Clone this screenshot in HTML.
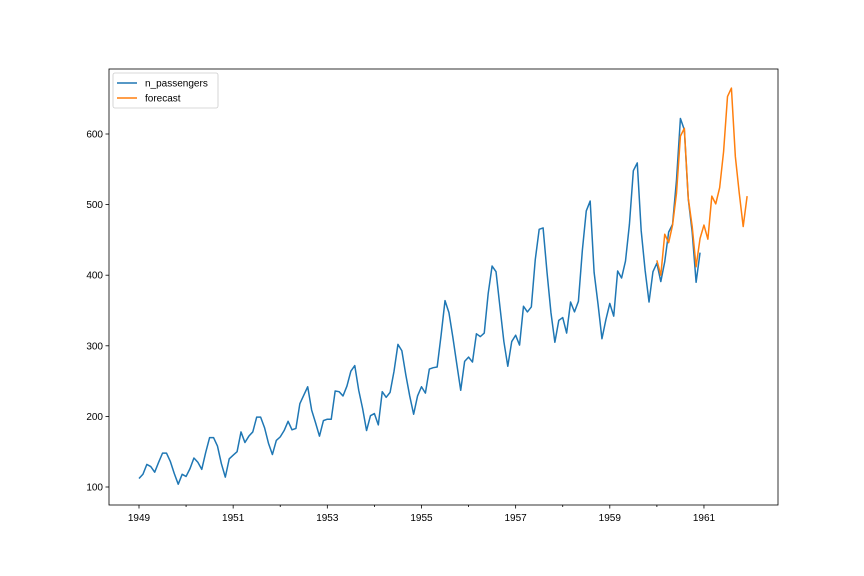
<!DOCTYPE html>
<html><head><meta charset="utf-8"><style>body{margin:0;background:#fff}svg{display:block;font-family:"Liberation Sans","DejaVu Sans",sans-serif}</style></head>
<body>
<svg id="chart" width="864" height="576" viewBox="0 0 864 576" xmlns="http://www.w3.org/2000/svg">
<rect width="864" height="576" fill="#fff"/>
<g id="plot"></g>
</svg>
<script>
const passengers = [112,118,132,129,121,135,148,148,136,119,104,118,
115,126,141,135,125,149,170,170,158,133,114,140,
145,150,178,163,172,178,199,199,184,162,146,166,
171,180,193,181,183,218,230,242,209,191,172,194,
196,196,236,235,229,243,264,272,237,211,180,201,
204,188,235,227,234,264,302,293,259,229,203,229,
242,233,267,269,270,315,364,347,312,274,237,278,
284,277,317,313,318,374,413,405,355,306,271,306,
315,301,356,348,355,422,465,467,404,347,305,336,
340,318,362,348,363,435,491,505,404,359,310,337,
360,342,406,396,420,472,548,559,463,407,362,405,
417,391,419,461,472,535,622,606,508,461,390,432];
const passengersStart = 1949;
const forecast = [421,400,458,446,471,516,597,608,509,469,412,452,
471,451,512,501,524,575,653,665,568,516,469,512];
const forecastStart = 1960;
const yTicks = [100,200,300,400,500,600];
const xTickYears = [1949,1950,1951,1952,1953,1954,1955,1956,1957,1958,1959,1960,1961];
const xLabelYears = [1949,1951,1953,1955,1957,1959,1961];

const NS="http://www.w3.org/2000/svg";
const g=document.getElementById('plot');
const L=109,R=778,T=69,B=505;
const xs=t=>139+(t-1949)*47.08;
const ys=v=>487-(v-100)*0.706;
function mk(tag,attrs,parent){const e=document.createElementNS(NS,tag);for(const k in attrs)e.setAttribute(k,attrs[k]);(parent||g).appendChild(e);return e;}

function line(data,start,color,name){
  const pts=data.map((v,i)=>xs(start+i/12).toFixed(2)+','+ys(v).toFixed(2)).join(' ');
  const p=mk('polyline',{points:pts,fill:'none',stroke:color,'stroke-width':1.5,'stroke-linejoin':'round'});
  
  
}
line(passengers,passengersStart,'#1f77b4','n-passengers-line');
line(forecast,forecastStart,'#ff7f0e','forecast-line');

const frame=mk('rect',{x:L,y:T,width:R-L,height:B-T,fill:'none',stroke:'#000','stroke-width':0.8});



yTicks.forEach(v=>{
  const y=ys(v);
  const tk=mk('line',{x1:L-3.5,x2:L,y1:y,y2:y,stroke:'#000','stroke-width':0.8});
  
  
  const t=mk('text',{x:L-6,y:y+3.5,'text-anchor':'end','font-size':10});
  t.textContent=v;
  
  
});
xTickYears.forEach(yr=>{
  const x=xs(yr);
  const lab=xLabelYears.includes(yr);
  const tk=mk('line',{x1:x,x2:x,y1:B,y2:B+(lab?3.5:2),stroke:'#000','stroke-width':0.8});
  
  
  if(lab){
    const t=mk('text',{x:x,y:B+16,'text-anchor':'middle','font-size':10});
    t.textContent=yr;
    
    
  }
});

const lg=mk('g',{});


mk('rect',{x:113,y:73,width:105,height:35,rx:2,fill:'#fff',stroke:'#ccc','stroke-width':0.8},lg);
[['n_passengers','#1f77b4',83],['forecast','#ff7f0e',98]].forEach(([n,c,y])=>{
  const e=mk('g',{},lg);
  
  
  mk('line',{x1:117,x2:137,y1:y,y2:y,stroke:c,'stroke-width':1.5},e);
  const t=mk('text',{x:145,y:y+3.5,'font-size':10},e);
  t.textContent=n;
});
</script>
</body></html>
